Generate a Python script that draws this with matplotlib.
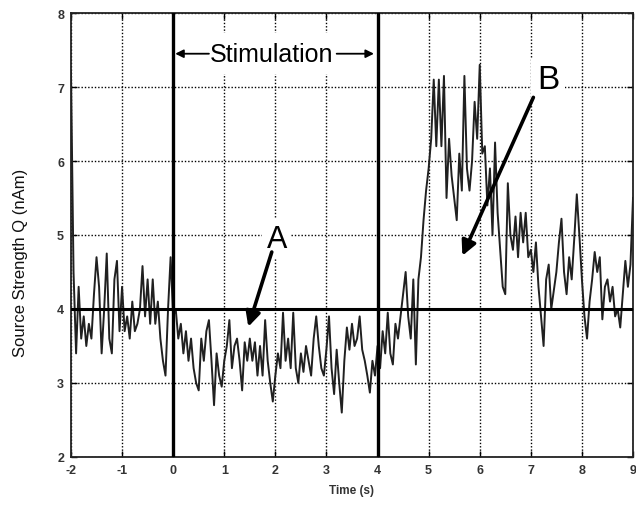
import matplotlib
matplotlib.use("Agg")
import matplotlib.pyplot as plt
import numpy as np

plt.rcParams['font.family'] = ['Liberation Sans', 'DejaVu Sans']
plt.rcParams['axes.unicode_minus'] = False

# source strength, one row per second, 0.05 s apart
t_start = -2.0
dt = 0.05
q = [
    7.2, 4.5, 3.4, 4.3, 3.6, 3.9, 3.5, 3.8, 3.6, 4.2, 4.7, 4.3, 3.4, 4.0, 4.75, 3.6, 3.4, 4.4, 4.65, 3.7,    # -2..-1
    4.3, 3.7, 3.9, 3.6, 4.1, 3.7, 3.8, 4.0, 4.58, 3.9, 4.4, 3.8, 4.4, 3.8, 4.1, 3.6, 3.3, 3.1, 4.0, 4.7,   # -1..0
    3.9, 4.0, 3.6, 3.8, 3.4, 3.7, 3.3, 3.6, 3.2, 3.0, 2.9, 3.6, 3.3, 3.7, 3.85, 3.3, 2.7, 3.4, 3.1, 2.95,  # 0..1
    3.3, 3.5, 3.85, 3.2, 3.5, 3.6, 3.3, 2.9, 3.55, 3.3, 3.6, 3.3, 3.55, 3.1, 3.5, 3.1, 3.85, 3.3, 3.0, 2.75,  # 1..2
    3.1, 3.4, 3.2, 3.95, 3.3, 3.6, 3.2, 3.95, 3.2, 3.0, 3.4, 3.15, 3.5, 3.3, 3.1, 3.6, 3.9, 3.5, 3.2, 3.1,  # 2..3
    3.46, 3.9, 3.2, 2.85, 3.45, 3.0, 2.6, 3.3, 3.75, 3.45, 3.8, 3.5, 3.6, 3.9, 3.45, 3.3, 3.1, 2.87, 3.3, 3.1,  # 3..4
    3.5, 3.2, 3.7, 3.4, 3.95, 3.4, 3.25, 3.8, 3.6, 3.9, 4.2, 4.5, 3.9, 3.6, 4.4, 3.25, 4.4, 4.7, 5.2, 5.6,  # 4..5
    5.9, 6.3, 7.1, 6.2, 7.1, 6.2, 7.15, 5.5, 6.3, 5.8, 5.5, 5.2, 6.1, 5.6, 7.15, 5.9, 5.6, 6.0, 6.8, 6.3,  # 5..6
    7.3, 6.1, 6.2, 5.4, 5.9, 5.0, 6.25, 5.3, 4.8, 4.3, 4.2, 5.7, 5.0, 4.8, 5.25, 4.7, 5.3, 4.9, 5.3, 4.7,  # 6..7
    4.8, 4.5, 4.9, 4.3, 3.9, 3.5, 4.4, 4.6, 4.0, 4.25, 4.5, 4.9, 5.22, 4.5, 4.2, 4.7, 4.4, 4.95, 5.55, 5.0,  # 7..8
    4.4, 3.9, 3.6, 4.1, 4.4, 4.77, 4.5, 4.7, 3.86, 4.3, 4.4, 4.1, 4.3, 3.9, 4.0, 3.75, 4.2, 4.65, 4.3, 4.6,  # 8..9
    5.5,
]
t = np.round(t_start + dt * np.arange(len(q)), 3)

baseline = 4.0
stim_on, stim_off = 0, 4
xticks = [-2, -1, 0, 1, 2, 3, 4, 5, 6, 7, 8, 9]
yticks = [2, 3, 4, 5, 6, 7, 8]

fig = plt.figure(figsize=(6.36, 5.06), dpi=100)
ax = fig.add_axes([0.1116, 0.0949, 0.8837, 0.8774])

ax.plot(t, q, color='#202020', lw=1.4, zorder=3)
ax.axhline(baseline, color='black', lw=2.2, zorder=4)
ax.axvline(stim_on, color='black', lw=2.4, zorder=4)
ax.axvline(stim_off, color='black', lw=2.4, zorder=4)

ax.set_xlim(-2, 9)
ax.set_ylim(2, 8)
ax.set_xticks(xticks)
ax.set_yticks(yticks)
ax.grid(True, color='black', linestyle=(0, (1, 1.4)), lw=1.0)
ax.set_axisbelow(True)
ax.tick_params(direction='in', length=4, width=1, top=True, right=True,
               labelsize=9, labelcolor='#333333', pad=5)
for lab in ax.get_xticklabels() + ax.get_yticklabels():
    lab.set_fontweight('bold')
for s in ax.spines.values():
    s.set_linewidth(1.3)
    s.set_color('#222222')

ax.set_xlabel('Time (s)', fontsize=8.5, fontweight='bold', color='#333333', labelpad=6)
ax.set_ylabel('Source Strength Q (nAm)', fontsize=12, color='#111111')
ax.yaxis.set_label_coords(-0.077, 0.44)

# stimulation span label
ax.text(1.93, 7.45, 'Stimulation', fontsize=18, ha='center', va='center', zorder=5,
        bbox=dict(facecolor='white', edgecolor='none', pad=6))
arr = dict(arrowstyle='-|>', lw=1.3, color='black', mutation_scale=12, shrinkA=0, shrinkB=0)
ax.annotate('', xy=(0.04, 7.45), xytext=(0.7, 7.45), arrowprops=arr, zorder=6)
ax.annotate('', xy=(3.93, 7.45), xytext=(3.2, 7.45), arrowprops=arr, zorder=6)

# A and B markers
big = dict(arrowstyle='-|>', lw=2.6, color='black', mutation_scale=22, shrinkA=0, shrinkB=0)
ax.text(2.03, 4.95, 'A', fontsize=22, ha='center', va='center', zorder=5,
        bbox=dict(facecolor='white', edgecolor='none', pad=3))
ax.annotate('', xy=(1.47, 3.76), xytext=(1.93, 4.77), arrowprops=big, zorder=6)
ax.text(7.34, 7.1, 'B', fontsize=24, ha='center', va='center', zorder=5,
        bbox=dict(facecolor='white', edgecolor='none', pad=4))
ax.annotate('', xy=(5.66, 4.72), xytext=(7.05, 6.86), arrowprops=big, zorder=6)

fig.savefig('out.png', dpi=100)
